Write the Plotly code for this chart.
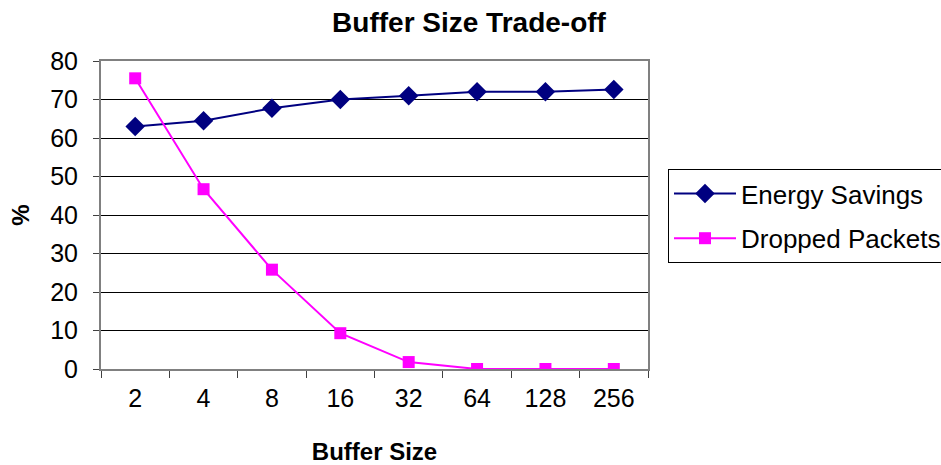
import plotly.graph_objects as go

# Buffer sizes (categories) and the two measured series, in percent
buffer_sizes = ["2", "4", "8", "16", "32", "64", "128", "256"]
energy_savings = [63.0, 64.5, 67.7, 70.0, 71.0, 72.0, 72.0, 72.6]
dropped_packets = [75.5, 46.7, 25.8, 9.3, 1.8, 0.0, 0.0, 0.0]
y_ticks = [0, 10, 20, 30, 40, 50, 60, 70, 80]

REG = "Liberation Sans, Arial, sans-serif"

fig = go.Figure()
fig.add_trace(go.Scatter(
    x=buffer_sizes, y=energy_savings, name="Energy Savings",
    mode="lines+markers", legendgroup="a",
    line=dict(color="#000080", width=2),
    marker=dict(symbol="diamond", size=15, color="#000080"),
))
fig.add_trace(go.Scatter(
    x=buffer_sizes, y=dropped_packets, name="Dropped Packets",
    mode="lines+markers", legendgroup="b",
    line=dict(color="#FF00FF", width=2),
    marker=dict(symbol="square", size=12, color="#FF00FF"),
))

fig.update_layout(
    width=941, height=465,
    margin=dict(l=101, r=293, t=61, b=96, autoexpand=False),
    paper_bgcolor="white", plot_bgcolor="white",
    font=dict(family=REG, size=25, color="black"),
    title=dict(
        text="Buffer Size Trade-off",
        font=dict(family=REG, size=28, weight="bold", color="black"),
        x=469 / 941, xanchor="center",
        xref="container", yref="container",
        y=1 - 22 / 465, yanchor="middle",
    ),
    showlegend=True,
    legend=dict(
        x=(668 - 101) / 547, xanchor="left",
        y=(369 - 169) / 308, yanchor="top",
        bgcolor="white", bordercolor="black", borderwidth=1,
        font=dict(family=REG, size=26, color="black"),
        itemwidth=62, traceorder="grouped", tracegroupgap=8,
    ),
    xaxis=dict(
        type="category", range=[-0.5, 7.5],
        tickson="boundaries", ticks="outside", ticklen=7,
        tickcolor="#404040", tickwidth=1,
        showline=True, linecolor="#808080", linewidth=2, mirror=True,
        showgrid=False, zeroline=False,
        tickfont=dict(family=REG, size=25, color="black"),
        ticklabelstandoff=6,
        title=dict(text="Buffer Size", standoff=37,
                   font=dict(family=REG, size=24, weight="bold", color="black")),
        automargin=False,
    ),
    yaxis=dict(
        range=[0, 80], tickvals=y_ticks,
        ticks="outside", ticklen=6, tickcolor="#404040", tickwidth=1,
        showline=True, linecolor="#808080", linewidth=2, mirror=True,
        showgrid=True, gridcolor="black", gridwidth=1, zeroline=False,
        tickfont=dict(family=REG, size=25, color="black"),
        ticklabelstandoff=10,
        title=dict(text="%", standoff=14,
                   font=dict(family=REG, size=24, weight="bold", color="black")),
        automargin=False,
    ),
)

fig.write_html("out.html")
